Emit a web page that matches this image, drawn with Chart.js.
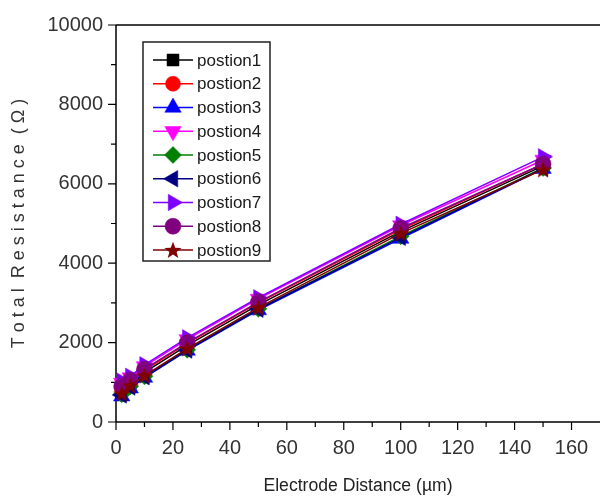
<!DOCTYPE html>
<html>
<head>
<meta charset="utf-8">
<script src="https://cdn.jsdelivr.net/npm/chart.js@4.4.1/dist/chart.umd.min.js"></script>
<style>
  html, body { margin: 0; padding: 0; background: #ffffff; }
  #wrap { width: 600px; height: 497px; position: relative; }
</style>
</head>
<body>
<div id="wrap"><canvas id="c" width="600" height="497"></canvas></div>
<script>
// ---- data ----
const distances = [2, 5, 10, 25, 50, 100, 150];
const seriesNames = ['postion1','postion2','postion3','postion4','postion5','postion6','postion7','postion8','postion9'];
const postion1 = [800, 980, 1250, 1930, 2950, 4800, 6450];
const postion2 = [850, 1020, 1300, 1980, 3000, 4850, 6500];
const postion3 = [650, 850, 1120, 1800, 2820, 4620, 6380];
const postion4 = [980, 1120, 1400, 2080, 3100, 4950, 6600];
const postion5 = [700, 900, 1150, 1820, 2850, 4680, 6400];
const postion6 = [680, 880, 1140, 1810, 2840, 4650, 6390];
const postion7 = [1030, 1150, 1440, 2120, 3130, 4980, 6680];
const postion8 = [900, 1050, 1330, 2000, 3020, 4880, 6500];
const postion9 = [720, 920, 1170, 1850, 2880, 4750, 6360];
const xTickLabels = [0, 20, 40, 60, 80, 100, 120, 140, 160];
const yTickLabels = [0, 2000, 4000, 6000, 8000, 10000];

const seriesValues = [postion1, postion2, postion3, postion4, postion5, postion6, postion7, postion8, postion9];

// ---- styles ----
function makeStar(color, R) {
  const s = Math.ceil(R * 2 + 2);
  const cv = document.createElement('canvas');
  cv.width = s; cv.height = s;
  const g = cv.getContext('2d');
  const cx = s / 2, cy = s / 2 + 0.8, r = R * 0.42;
  g.beginPath();
  for (let i = 0; i < 10; i++) {
    const a = -Math.PI / 2 + i * Math.PI / 5;
    const rr = i % 2 === 0 ? R : r;
    g.lineTo(cx + rr * Math.cos(a), cy + rr * Math.sin(a));
  }
  g.closePath();
  g.fillStyle = color;
  g.fill();
  return cv;
}
const styles = [
  { color: '#000000', pointStyle: 'rect', rotation: 0, radius: 8.5 },
  { color: '#ff0000', pointStyle: 'circle', rotation: 0, radius: 7.5 },
  { color: '#0000ff', pointStyle: 'triangle', rotation: 0, radius: 9.5 },
  { color: '#ff00ff', pointStyle: 'triangle', rotation: 180, radius: 9.5 },
  { color: '#008000', pointStyle: 'rectRot', rotation: 0, radius: 8.5 },
  { color: '#000080', pointStyle: 'triangle', rotation: -90, radius: 9.5 },
  { color: '#8000ff', pointStyle: 'triangle', rotation: 90, radius: 9.5 },
  { color: '#800080', pointStyle: 'circle', rotation: 0, radius: 8 },
  { color: '#800000', pointStyle: makeStar('#800000', 9), rotation: 0, radius: 9 }
];

const datasets = seriesValues.map((vals, i) => ({
  label: seriesNames[i],
  data: distances.map((d, j) => ({ x: d, y: vals[j] })),
  borderColor: styles[i].color,
  backgroundColor: styles[i].color,
  borderWidth: 1.5,
  pointStyle: styles[i].pointStyle,
  pointRotation: styles[i].rotation,
  pointRadius: styles[i].radius,
  pointBorderWidth: 0.5,
  pointBorderColor: styles[i].color,
  pointBackgroundColor: styles[i].color,
  tension: 0,
  clip: false,
  order: seriesValues.length - i
}));

const FONT = "'Liberation Sans', Arial, sans-serif";

const framePlugin = {
  id: 'frame',
  beforeDatasetsDraw(chart) {
    const { ctx, chartArea: a, scales: { x, y } } = chart;
    ctx.save();
    ctx.strokeStyle = '#000';
    ctx.lineWidth = 1.5;
    ctx.beginPath();
    ctx.moveTo(a.left, a.top); ctx.lineTo(a.left, a.bottom);
    ctx.moveTo(a.left, a.bottom); ctx.lineTo(a.right, a.bottom);
    ctx.moveTo(a.left, a.top); ctx.lineTo(a.right, a.top);
    ctx.stroke();
    ctx.lineWidth = 1.2;
    ctx.beginPath();
    for (let v = 0; v <= 160; v += 10) {
      const px = x.getPixelForValue(v);
      const len = v % 20 === 0 ? 8 : 5;
      ctx.moveTo(px, a.bottom); ctx.lineTo(px, a.bottom + len);
    }
    for (let v = 0; v <= 10000; v += 1000) {
      const py = y.getPixelForValue(v);
      const len = v % 2000 === 0 ? 8 : 5;
      ctx.moveTo(a.left, py); ctx.lineTo(a.left - len, py);
    }
    ctx.stroke();
    ctx.restore();
  }
};

const legendPlugin = {
  id: 'boxLegend',
  afterDraw(chart) {
    const { ctx, chartArea: a } = chart;
    const left = a.left + 27, top = a.top + 17, w = 127, h = 219;
    ctx.save();
    ctx.fillStyle = '#fff';
    ctx.fillRect(left, top, w, h);
    ctx.strokeStyle = '#222';
    ctx.lineWidth = 1.5;
    ctx.strokeRect(left, top, w, h);
    const rowH = 23.75;
    chart.data.datasets.forEach((ds, i) => {
      const cy = top + 18 + i * rowH;
      ctx.strokeStyle = ds.borderColor;
      ctx.lineWidth = 1.5;
      ctx.beginPath();
      ctx.moveTo(left + 10, cy); ctx.lineTo(left + 50, cy);
      ctx.stroke();
      ctx.fillStyle = ds.backgroundColor;
      ctx.strokeStyle = ds.borderColor;
      ctx.lineWidth = 0.5;
      Chart.helpers.drawPoint(ctx, {
        pointStyle: ds.pointStyle,
        rotation: ds.pointRotation,
        radius: ds.pointRadius,
        borderWidth: 0.5
      }, left + 30, cy);
      ctx.fillStyle = '#1a1a1a';
      ctx.font = "17px " + FONT;
      ctx.textBaseline = 'middle';
      ctx.textAlign = 'left';
      ctx.fillText(ds.label, left + 54, cy + 1);
    });
    ctx.restore();
  }
};

new Chart(document.getElementById('c'), {
  type: 'line',
  data: { datasets },
  plugins: [framePlugin, legendPlugin],
  options: {
    responsive: false,
    animation: false,
    devicePixelRatio: 1,
    layout: { autoPadding: false, padding: { top: 22, right: 0, left: 0, bottom: 0 } },
    plugins: { legend: { display: false }, tooltip: { enabled: false } },
    scales: {
      x: {
        type: 'linear',
        min: 0, max: 170,
        grid: { display: false, drawTicks: false },
        border: { display: false },
        ticks: {
          stepSize: 20,
          includeBounds: false,
          padding: 14,
          color: '#333',
          font: { family: FONT, size: 20 },
          maxRotation: 0,
          callback: v => xTickLabels.includes(v) ? String(v) : ''
        },
        title: {
          display: true,
          text: 'Electrode Distance (µm)',
          color: '#222',
          font: { family: FONT, size: 17.6 },
          padding: { top: 0, bottom: 0 }
        },
        afterFit(s) { s.height = 75; s.paddingRight = 0; s.paddingLeft = 0; }
      },
      y: {
        type: 'linear',
        min: 0, max: 10000,
        grid: { display: false, drawTicks: false },
        border: { display: false },
        ticks: {
          stepSize: 2000,
          padding: 13,
          color: '#333',
          font: { family: FONT, size: 20 },
          callback: v => yTickLabels.includes(v) ? String(v) : ''
        },
        title: {
          display: true,
          text: 'T o t a l  R e s i s t a n c e  ( Ω )',
          color: '#333',
          font: { family: FONT, size: 18 },
          padding: { top: 8, bottom: 0 }
        },
        afterFit(s) { s.width = 116; }
      }
    }
  }
});
</script>
</body>
</html>
